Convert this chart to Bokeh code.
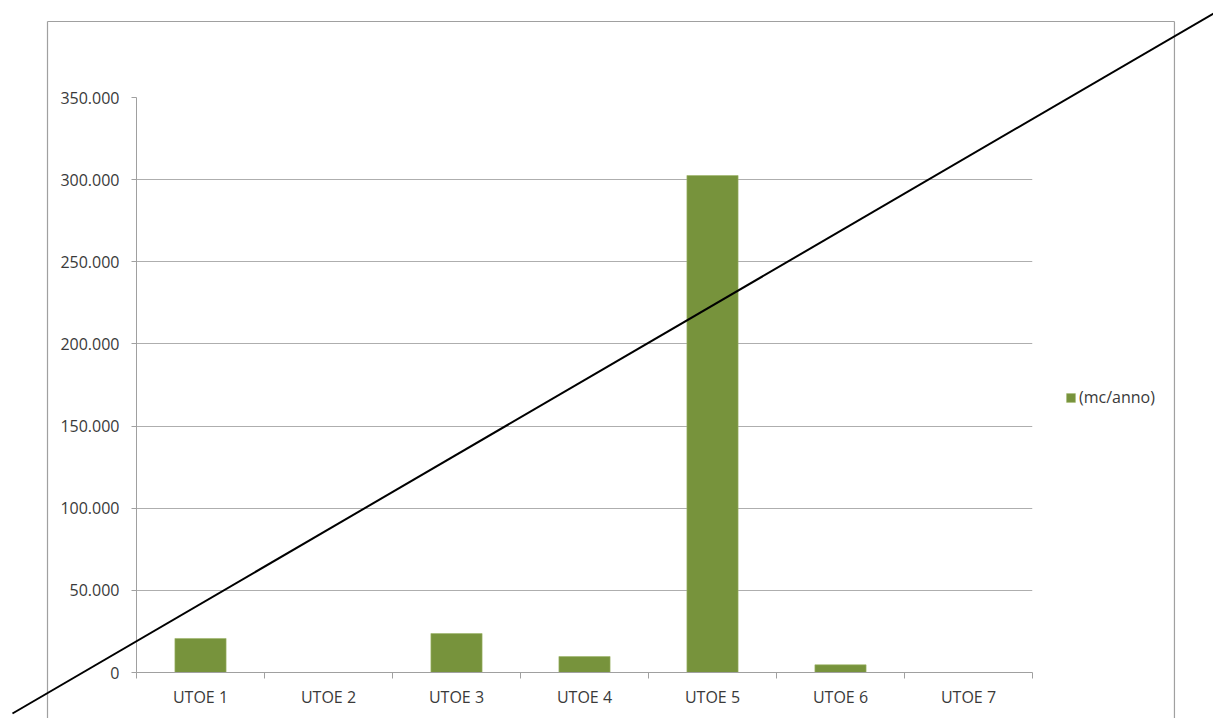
from bokeh.plotting import figure
from bokeh.models import FixedTicker, Legend, LegendItem, ColumnDataSource, Range1d
from bokeh.embed import file_html
from bokeh.resources import INLINE

# ---- data ----
categories = ["UTOE 1", "UTOE 2", "UTOE 3", "UTOE 4", "UTOE 5", "UTOE 6", "UTOE 7"]
values = [20700, 0, 23700, 9700, 302500, 4700, 0]
series_name = "(mc/anno)"
y_ticks = [0, 50000, 100000, 150000, 200000, 250000, 300000, 350000]
y_tick_labels = ["0", "50.000", "100.000", "150.000", "200.000", "250.000", "300.000", "350.000"]

# ---- styles ----
FONT = "Open Sans"
FS = "16px"
TXT = "#3A3A3A"
AXC = "#A0A0A0"
GRIDC = "#AEAEAE"
BAR = "#77933C"

n = len(categories)
x_centers = [i + 0.5 for i in range(n)]
boundaries = list(range(n + 1))

p = figure(frame_width=896, frame_height=575,
           min_border_left=136, min_border_right=181, min_border_top=97, min_border_bottom=46,
           x_range=Range1d(0, n), y_range=Range1d(y_ticks[0], y_ticks[-1]),
           output_backend="svg", toolbar_location=None)
p.outline_line_color = None
p.background_fill_color = "white"
p.border_fill_color = "white"

src = ColumnDataSource(dict(x=x_centers, top=values, cat=categories))
r = p.vbar(x="x", top="top", width=0.4, source=src, fill_color=BAR,
           line_color="#9DB56A", line_width=0.6)

# y axis
p.yaxis.ticker = FixedTicker(ticks=y_ticks, minor_ticks=[])
p.yaxis.major_label_overrides = {t: l for t, l in zip(y_ticks, y_tick_labels)}
p.yaxis.axis_line_color = AXC
p.yaxis.major_tick_line_color = AXC
p.yaxis.major_tick_out = 5
p.yaxis.major_tick_in = 0
p.yaxis.minor_tick_line_color = None
p.yaxis.major_label_standoff = 12
p.yaxis.major_label_text_font = FONT
p.yaxis.major_label_text_font_size = FS
p.yaxis.major_label_text_color = TXT

# x axis
p.xaxis.ticker = FixedTicker(ticks=x_centers, minor_ticks=boundaries)
p.xaxis.major_label_overrides = {x: c for x, c in zip(x_centers, categories)}
p.xaxis.axis_line_color = AXC
p.xaxis.major_tick_line_color = None
p.xaxis.major_tick_out = 0
p.xaxis.major_tick_in = 0
p.xaxis.minor_tick_line_color = AXC
p.xaxis.minor_tick_out = 6
p.xaxis.minor_tick_in = 0
p.xaxis.major_label_standoff = 7
p.xaxis.major_label_text_font = FONT
p.xaxis.major_label_text_font_size = FS
p.xaxis.major_label_text_color = TXT

p.xgrid.visible = False
p.ygrid.ticker = FixedTicker(ticks=y_ticks, minor_ticks=[])
p.ygrid.grid_line_color = GRIDC
p.ygrid.grid_line_width = 1

legend = Legend(items=[LegendItem(label=series_name, renderers=[r])],
                location=(33, 264), glyph_width=11, glyph_height=11,
                label_text_font=FONT, label_text_font_size=FS, label_text_color=TXT,
                padding=0, margin=0, spacing=0, label_standoff=3,
                border_line_color=None, background_fill_alpha=0)
p.add_layout(legend, "right")

# outer chart-area border (left, top, right) and diagonal strike-through, drawn unclipped
bx0, bx1 = -0.6953, 8.109
by_top, by_bot = 396260, -30000
p.segment(x0=[bx0, bx0, bx1], y0=[by_bot, by_top, by_top],
          x1=[bx0, bx1, bx1], y1=[by_top, by_top, by_bot],
          line_color=AXC, line_width=1.2, level="overlay")
p.segment(x0=[-0.969], y0=[-24957], x1=[8.414], y1=[401130],
          line_color="black", line_width=2, level="overlay")

open("out.html", "w").write(file_html(p, INLINE))
